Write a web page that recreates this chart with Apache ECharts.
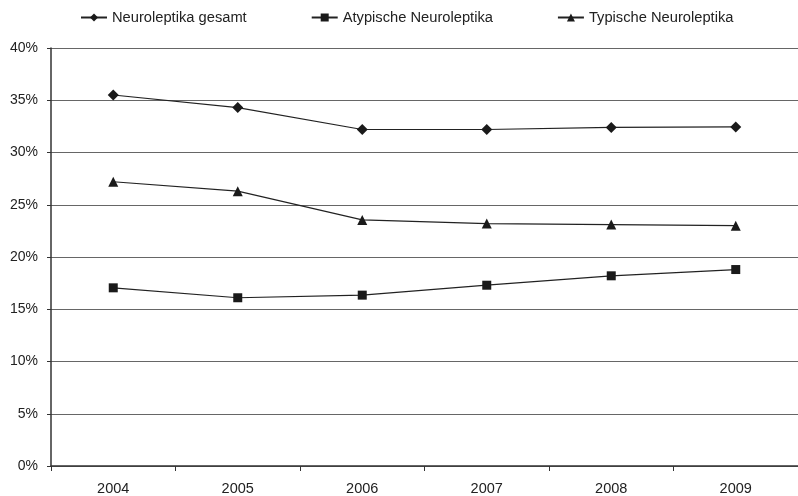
<!DOCTYPE html>
<html>
<head>
<meta charset="utf-8">
<script src="https://cdn.jsdelivr.net/npm/echarts@6/dist/echarts.min.js"></script>
<style>html,body{margin:0;padding:0;background:#fff}#c{width:798px;height:496px}</style>
</head>
<body>
<div id="c"></div>
<script>
const categories = ['2004', '2005', '2006', '2007', '2008', '2009'];
const gesamt = [35.5, 34.3, 32.2, 32.2, 32.4, 32.45];
const atypisch = [17.05, 16.1, 16.35, 17.3, 18.2, 18.8];
const typisch = [27.2, 26.3, 23.55, 23.2, 23.1, 23.0];
const seriesNames = ['Neuroleptika gesamt', 'Atypische Neuroleptika', 'Typische Neuroleptika'];

const font = 'Liberation Sans, Arial, sans-serif';
const chart = echarts.init(document.getElementById('c'), null, {renderer: 'canvas'});
function mk(name, data, symbol, size) {
  return {
    name: name, type: 'line', data: data, symbol: symbol, symbolSize: size,
    lineStyle: {color: '#222', width: 1.2},
    itemStyle: {color: '#1a1a1a'},
    animation: false
  };
}
chart.setOption({
  backgroundColor: '#fff',
  textStyle: {fontFamily: font},
  legend: {
    left: 75, top: 5, itemWidth: 26, itemHeight: 10, itemGap: 64,
    textStyle: {fontSize: 14.7, color: '#222', fontFamily: font},
    data: seriesNames
  },
  grid: {left: 51, top: 48, width: 754, height: 418},
  xAxis: {
    type: 'category', data: categories, boundaryGap: true,
    axisLine: {lineStyle: {color: '#333', width: 1.5}},
    axisTick: {show: true, length: 5, lineStyle: {color: '#333'}},
    axisLabel: {fontSize: 14.5, color: '#222', margin: 15, fontFamily: font}
  },
  yAxis: {
    type: 'value', min: 0, max: 40, interval: 5,
    axisLine: {show: true, lineStyle: {color: '#333', width: 1.5}},
    axisTick: {show: true, length: 4, lineStyle: {color: '#333'}},
    axisLabel: {fontSize: 14, color: '#222', margin: 13, fontFamily: font, formatter: v => v + '%'},
    splitLine: {show: true, lineStyle: {color: '#666', width: 1.2}}
  },
  series: [
    mk(seriesNames[0], gesamt, 'diamond', 11),
    mk(seriesNames[1], atypisch, 'rect', 9),
    mk(seriesNames[2], typisch, 'triangle', 10)
  ]
});
</script>
</body>
</html>
